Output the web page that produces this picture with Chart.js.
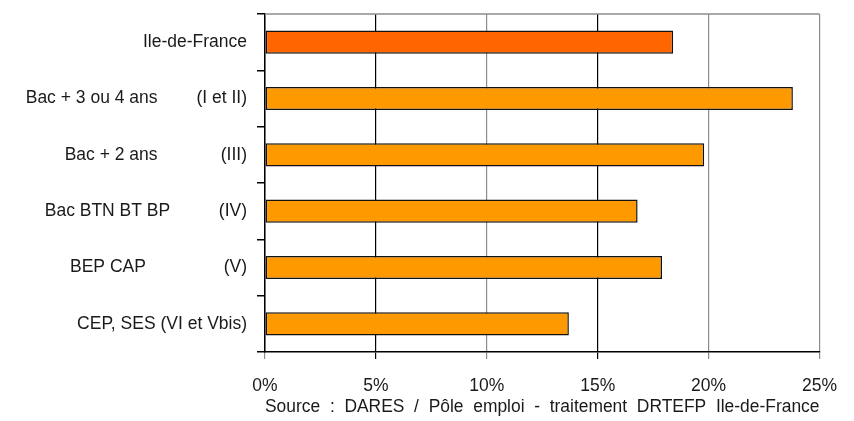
<!DOCTYPE html>
<html>
<head>
<meta charset="utf-8">
<script src="https://cdn.jsdelivr.net/npm/chart.js@4"></script>
<style>
  html, body { margin: 0; padding: 0; background: #fff; }
  #wrap { width: 854px; height: 421px; }
</style>
</head>
<body>
<div id="wrap"><canvas id="chart"></canvas></div>
<script>
const categories = [
  "Ile-de-France",
  "Bac + 3 ou 4 ans        (I et II)",
  "Bac + 2 ans             (III)",
  "Bac BTN BT BP          (IV)",
  "BEP CAP                (V)",
  "CEP, SES (VI et Vbis)",
];
const rates = [18.4, 23.8, 19.8, 16.8, 17.9, 13.7];
const barColors = ["#FF6600", "#FF9900", "#FF9900", "#FF9900", "#FF9900", "#FF9900"];
const xTicks = [0, 5, 10, 15, 20, 25];
const sourceNote = "Source  :  DARES  /  Pôle  emploi  -  traitement  DRTEFP  Ile-de-France";

const FONT = "'Liberation Sans', Arial, sans-serif";
const FSIZE = 17.5;

// grey frame on top of the plot area, like the Excel original
const frame = {
  id: "frame",
  beforeDatasetsDraw(chart) {
    const { ctx, chartArea: a } = chart;
    ctx.save();
    ctx.strokeStyle = "#8c8c8c";
    ctx.lineWidth = 1.5;
    ctx.beginPath();
    ctx.moveTo(a.left, a.top);
    ctx.lineTo(a.right, a.top);
    ctx.stroke();
    ctx.restore();
  },
};

new Chart(document.getElementById("chart"), {
  type: "bar",
  data: {
    labels: categories,
    datasets: [
      {
        data: rates,
        backgroundColor: barColors,
        borderColor: "#111",
        borderWidth: 1.5,
        borderSkipped: false,
        categoryPercentage: 1,
        barPercentage: 0.41,
      },
    ],
  },
  options: {
    indexAxis: "y",
    responsive: true,
    maintainAspectRatio: false,
    animation: false,
    layout: { padding: { left: 0, right: 33, top: 14, bottom: 0 } },
    plugins: {
      legend: { display: false },
      tooltip: { enabled: false },
    },
    scales: {
      x: {
        min: 0,
        max: 25,
        afterBuildTicks: (s) => { s.ticks = xTicks.map((v) => ({ value: v })); },
        afterFit: (s) => { s.height = 69; },
        ticks: {
          callback: (v) => v + "%",
          color: "#1a1a1a",
          font: { family: FONT, size: FSIZE },
          padding: 17,
          maxRotation: 0,
        },
        grid: {
          color: (c) => (c.tick && (c.tick.value === 5 || c.tick.value === 15) ? "#000" : "#8c8c8c"),
          lineWidth: 1.2,
          tickLength: 7,
        },
        border: { color: "#000", width: 1.5 },
        title: {
          display: true,
          text: sourceNote,
          color: "#1a1a1a",
          font: { family: FONT, size: FSIZE },
          padding: { top: 0, bottom: 3 },
        },
      },
      y: {
        afterFit: (s) => {
          s.width = 265;
          s.paddingTop = 0;
          s.paddingBottom = 0;
        },
        ticks: {
          color: "#1a1a1a",
          font: { family: FONT, size: FSIZE },
          padding: 10,
        },
        grid: {
          drawOnChartArea: false,
          color: "#000",
          tickLength: 8,
          lineWidth: 1.5,
        },
        border: { color: "#000", width: 1.5 },
      },
    },
  },
  plugins: [frame],
});
</script>
</body>
</html>
